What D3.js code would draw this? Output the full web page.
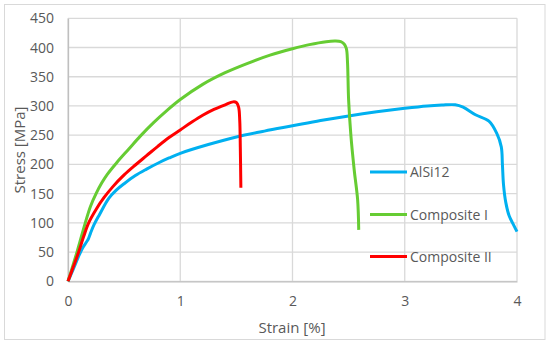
<!DOCTYPE html>
<html>
<head>
  <meta charset="UTF-8">
  <style>
    body { margin: 0; background: #fff; }
    text { font-family: "Open Sans", sans-serif; fill: #595959; }
  </style>
</head>
<body>
  <svg></svg>
<script src="https://d3js.org/d3.v7.min.js"></script>
<script>

    let width = 550;
    let height = 346;

    // data (strain in %, stress in MPa)
    let alsiStrain = [0, 0.05, 0.1, 0.13, 0.16, 0.18, 0.2, 0.23, 0.28, 0.363, 0.43, 0.5, 0.6, 0.7, 0.8, 0.9, 1.0, 1.25, 1.5, 1.75, 2.0, 2.25, 2.5, 2.75, 3.0, 3.2, 3.33, 3.45, 3.52, 3.63, 3.75, 3.82, 3.86, 3.87, 3.88, 3.9, 3.93, 3.96, 4.0];
    let alsiStress = [0, 22, 45, 57, 66, 72, 82, 96, 114, 142, 156, 167, 181, 192, 202, 211, 219, 234, 247, 257, 266, 275, 283, 290, 296, 300, 301.5, 302, 298, 285, 274, 253, 230, 200, 165, 135, 112, 100, 85];

    let comp1Strain = [0, 0.08, 0.154, 0.2, 0.25, 0.3, 0.35, 0.434, 0.54, 0.642, 0.76, 0.88, 1.0, 1.2, 1.4, 1.6, 1.8, 2.0, 2.15, 2.3, 2.38, 2.43, 2.46, 2.48, 2.49, 2.5, 2.52, 2.55, 2.58, 2.59];
    let comp1Stress = [0, 50, 100, 128, 150, 168, 183, 203, 226, 248, 271, 292, 311, 337, 357, 373, 387, 398, 405, 410, 411, 410, 406, 398, 375, 310, 250, 190, 140, 88];

    let comp2Strain = [0, 0.05, 0.095, 0.14, 0.184, 0.25, 0.32, 0.4, 0.5, 0.6, 0.7, 0.8, 0.9, 1.0, 1.1, 1.2, 1.3, 1.4, 1.47, 1.5, 1.52, 1.53, 1.535, 1.54];
    let comp2Stress = [0, 26, 50, 77, 100, 123, 143, 162, 182, 199, 215, 231, 246, 259, 272, 284, 294, 302, 307, 306, 298, 275, 230, 160];

    let seriesNames = ["AlSi12", "Composite I", "Composite II"];
    let seriesColors = ["#00b0f0", "#66cc33", "#ff0000"];

    let xTicks = [0, 1, 2, 3, 4];
    let yTicks = [0, 50, 100, 150, 200, 250, 300, 350, 400, 450];

    let series = [
      { name: seriesNames[0], strain: alsiStrain, stress: alsiStress },
      { name: seriesNames[1], strain: comp1Strain, stress: comp1Stress },
      { name: seriesNames[2], strain: comp2Strain, stress: comp2Stress }
    ];

    let svg = d3.select("svg")
        .attr("width", width)
        .attr("height", height);

    // outer chart frame
    svg.append("rect")
      .attr("x", 4.5).attr("y", 4.5)
      .attr("width", 540.5).attr("height", 335)
      .attr("fill", "#fff")
      .attr("stroke", "#d9d9d9");

    let x = d3.scaleLinear().domain([0, 4]).range([68, 517]);
    let y = d3.scaleLinear().domain([0, 450]).range([281.3, 18.3]);

    // grid
    let grid = svg.append("g").attr("id", "grid");
    grid.selectAll("line.h")
      .data(yTicks)
      .enter()
      .append("line")
        .attr("class", "h")
        .attr("x1", x(0)).attr("x2", x(4))
        .attr("y1", d => y(d)).attr("y2", d => y(d))
        .attr("stroke", "#d9d9d9")
        .attr("stroke-width", 1.3);
    grid.selectAll("line.v")
      .data(xTicks)
      .enter()
      .append("line")
        .attr("class", "v")
        .attr("y1", y(0)).attr("y2", y(450))
        .attr("x1", d => x(d)).attr("x2", d => x(d))
        .attr("stroke", "#d9d9d9")
        .attr("stroke-width", 1.3);

    // axes
    let xAxis = svg.append("g")
      .attr("transform", "translate(0," + y(0) + ")")
      .call(d3.axisBottom(x).tickValues(xTicks).tickSize(0).tickPadding(15).tickFormat(d3.format("d")));
    let yAxis = svg.append("g")
      .attr("transform", "translate(" + x(0) + ",0)")
      .call(d3.axisLeft(y).tickValues(yTicks).tickSize(0).tickPadding(14).tickFormat(d3.format("d")));
    [xAxis, yAxis].forEach(a => {
      a.select(".domain").attr("stroke", "#bfbfbf").attr("stroke-width", 1.3);
      a.selectAll("text").style("font-size", "14px").attr("fill", "#595959")
        .style("font-family", "'Open Sans', sans-serif");
    });

    // axis titles
    svg.append("text")
      .attr("x", 292).attr("y", 333)
      .attr("text-anchor", "middle")
      .style("font-size", "15px")
      .text("Strain [%]");
    svg.append("text")
      .attr("transform", "translate(25,150) rotate(-90)")
      .attr("text-anchor", "middle")
      .style("font-size", "15px")
      .text("Stress [MPa]");

    // curves
    let line = d3.line()
      .x(d => x(d[0]))
      .y(d => y(d[1]))
      .curve(d3.curveCatmullRom.alpha(0.5));

    svg.append("g")
      .attr("id", "curves")
      .selectAll("path")
      .data(series)
      .enter()
      .append("path")
        .attr("fill", "none")
        .attr("stroke", (d, i) => seriesColors[i])
        .attr("stroke-width", 3)
        .attr("stroke-linejoin", "round")
        .attr("d", d => line(d.strain.map((s, i) => [s, d.stress[i]])));

    // legend
    let legendY = [172, 214.5, 256.5];
    let legend = svg.append("g").attr("id", "legend")
      .selectAll("g")
      .data(seriesNames)
      .enter()
      .append("g")
        .attr("transform", (d, i) => "translate(370," + legendY[i] + ")");
    legend.append("line")
      .attr("x1", 0).attr("x2", 37)
      .attr("stroke", (d, i) => seriesColors[i])
      .attr("stroke-width", 3);
    legend.append("text")
      .attr("x", 40).attr("y", 5)
      .style("font-size", "14px")
      .text(d => d);

</script>
</body>
</html>
